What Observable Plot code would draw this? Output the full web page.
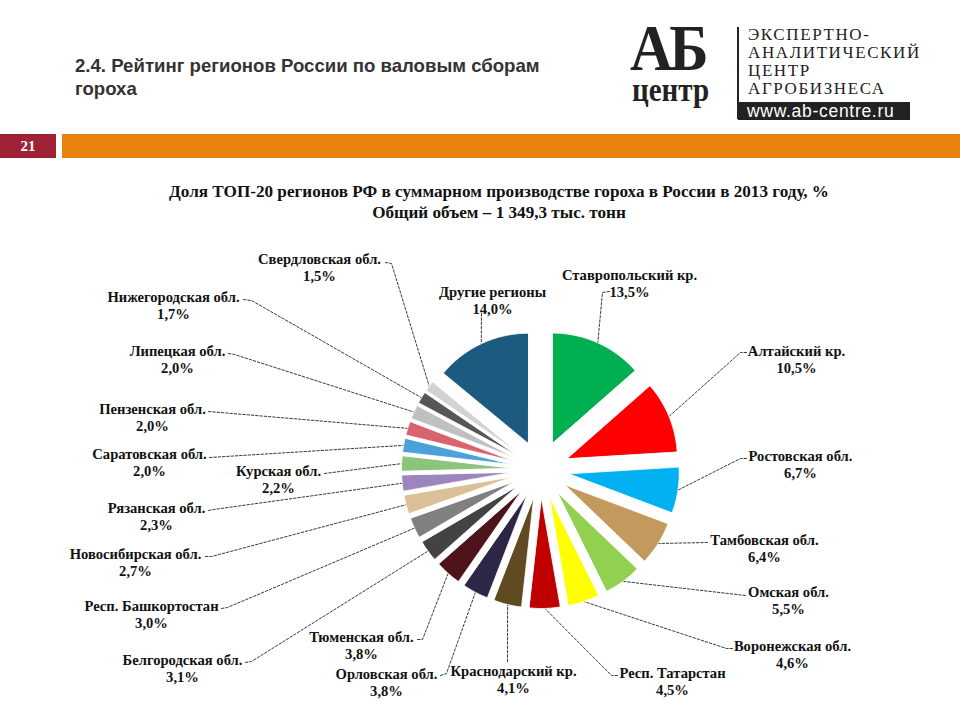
<!DOCTYPE html>
<html><head><meta charset="utf-8">
<script src="https://cdn.jsdelivr.net/npm/d3@7"></script>
<script src="https://cdn.jsdelivr.net/npm/@observablehq/plot@0.6"></script>
<style>
html,body{margin:0;padding:0;background:#fff}
body{width:960px;height:720px;position:relative;overflow:hidden}
#title{position:absolute;left:75px;top:54px;font-family:"Liberation Sans Narrow","Liberation Sans",Arial,sans-serif;font-weight:bold;font-size:18.6px;line-height:23px;color:#333}
#ab{position:absolute;left:630px;top:24px;font-family:"Liberation Serif",serif;font-weight:bold;font-size:66px;line-height:48px;height:48px;color:#222;letter-spacing:-4px;transform:scaleX(0.9);transform-origin:left top}
#centr{position:absolute;left:632px;top:76px;font-family:"Liberation Serif",serif;font-weight:bold;font-size:33px;line-height:28px;color:#222;transform:scaleX(0.88);transform-origin:left top}
#vline{position:absolute;left:737px;top:27px;width:2px;height:92px;background:#222}
#lt{position:absolute;left:748px;top:26px;font-family:"Liberation Serif",serif;font-size:17px;line-height:18px;color:#222;letter-spacing:1.6px}
#www{position:absolute;left:738px;top:102px;width:172px;height:18px;background:#222;color:#fff;font-family:"Liberation Sans",Arial,sans-serif;font-size:17.5px;line-height:18px;letter-spacing:0.7px;padding-left:9px;box-sizing:border-box;white-space:nowrap}
#num{position:absolute;left:0;top:134px;width:56px;height:24px;background:#9f2337;color:#fff;font-family:"Liberation Serif",serif;font-weight:bold;font-size:15px;line-height:24px;text-align:center}
#bar{position:absolute;left:62px;top:134px;width:898px;height:24px;background:#e8810e}
#ctitle{position:absolute;left:0;width:998px;top:181px;text-align:center;font-family:"Liberation Serif","Times New Roman",serif;font-weight:bold;font-size:17.15px;line-height:21px;color:#111}
#chart{position:absolute;left:0;top:230px}
</style></head><body>
<div id="title">2.4. Рейтинг регионов России по валовым сборам<br>гороха</div>
<div id="ab">АБ</div>
<div id="centr">центр</div>
<div id="vline"></div>
<div id="lt">ЭКСПЕРТНО-<br>АНАЛИТИЧЕСКИЙ<br>ЦЕНТР<br>АГРОБИЗНЕСА</div>
<div id="www">www.ab-centre.ru</div>
<div id="num">21</div>
<div id="bar"></div>
<div id="ctitle">Доля ТОП-20 регионов РФ в суммарном производстве гороха в России в 2013 году, %<br>Общий объем – 1 349,3 тыс. тонн</div>
<div id="chart"></div>
<script>
// ---- data (clockwise from 12 o'clock) ----
const regions = ["Ставропольский кр.", "Алтайский кр.", "Ростовская обл.", "Тамбовская обл.", "Омская обл.",
  "Воронежская обл.", "Респ. Татарстан", "Краснодарский кр.", "Орловская обл.", "Тюменская обл.",
  "Белгородская обл.", "Респ. Башкортостан", "Новосибирская обл.", "Рязанская обл.", "Курская обл.",
  "Саратовская обл.", "Пензенская обл.", "Липецкая обл.", "Нижегородская обл.", "Свердловская обл.", "Другие регионы"];
const shares = [13.5, 10.5, 6.7, 6.4, 5.5, 4.6, 4.5, 4.1, 3.8, 3.8, 3.1, 3.0, 2.7, 2.3, 2.2, 2.0, 2.0, 2.0, 1.7, 1.5, 14.0];
const colors = ["#00b050", "#ff0000", "#00b0f0", "#c4995e", "#92d050", "#ffff00", "#c00000", "#5f4a22", "#2e2646", "#4e131b",
  "#434343", "#808080", "#dbc097", "#9d86bb", "#8cc47c", "#4aa2d9", "#d8626d", "#c0c0c0", "#575757", "#d3d3d3", "#1d5a80"];

// ---- layout (page pixels): label first-line centre, leader start, optional bend ----
const labelXY = [[629,274],[796,350],[800,455],[764,539],[788,591],[792,645],[672,672],[513,670],[386,673],[361,636],
  [182,659],[151,605],[135,553],[156,507],[278,470],[149,453],[152,408],[177,350],[173,296],[319,258],[492,291]];
const leaderStart = [[609,291],[746,352],[746,458],[707,542],[745,595],[732,648],[617,675],[507,661],[440,675],[417,639],
  [245,662],[221,608],[205,556],[208,510],[324,473],[209,457],[208,411],[228,353],[243,299],[385,262],[481,313]];
const leaderBend = [[602,292],[740,352],[740,458],null,null,[726,648],[611,675],null,[446,673],[422,639],
  [251,661],[227,607],[211,556],[213,509],null,null,null,[234,354],[251,300],[391,263],null];

const CX = 540, CY = 469, R = 110, EXPLODE = 29, TOP = 230, H = 490;
const LINE_GAP = 16.7, FS = 14.6;

const arcs = d3.pie().sort(null).value(d => d)(shares);
const dir = a => [Math.sin(a), -Math.cos(a)];

// slice polygons
const slicePts = [];
arcs.forEach((a, i) => {
  const m = (a.startAngle + a.endAngle) / 2;
  const [mx, my] = dir(m);
  const tx = CX + EXPLODE * mx, ty = CY + EXPLODE * my;
  slicePts.push({name: regions[i], x: tx, y: ty});
  const n = Math.max(4, Math.ceil((a.endAngle - a.startAngle) / 0.02));
  for (let k = 0; k <= n; k++) {
    const ang = a.startAngle + (a.endAngle - a.startAngle) * k / n;
    const [dx, dy] = dir(ang);
    slicePts.push({name: regions[i], x: tx + R * dx, y: ty + R * dy});
  }
});

// leader lines
const leaderPts = [];
arcs.forEach((a, i) => {
  const m = (a.startAngle + a.endAngle) / 2;
  const [mx, my] = dir(m);
  const end = [CX + (EXPLODE + R) * mx, CY + (EXPLODE + R) * my];
  const pts = [leaderStart[i]];
  if (leaderBend[i]) pts.push(leaderBend[i]);
  pts.push(end);
  pts.forEach(p => leaderPts.push({k: i, x: p[0], y: p[1]}));
});

const fmt = v => v.toFixed(1).replace(".", ",") + "%";
const labels = regions.map((r, i) => ({text: r + "\n" + fmt(shares[i]), x: labelXY[i][0], y: labelXY[i][1] + LINE_GAP / 2}));

const chart = Plot.plot({
  width: 960, height: H, margin: 0,
  style: {fontFamily: "'Liberation Serif','Times New Roman',serif", background: "transparent"},
  x: {domain: [0, 960], range: [0, 960], axis: null},
  y: {domain: [TOP, TOP + H], range: [0, H], axis: null},
  color: {domain: regions, range: colors},
  marks: [
    Plot.line(leaderPts, {x: "x", y: "y", z: "k", stroke: "#222", strokeWidth: 0.9, strokeDasharray: "2.5,1.8", curve: "linear"}),
    Plot.line(slicePts, {x: "x", y: "y", z: "name", fill: "name", stroke: "#fff", strokeWidth: 0.8, curve: "linear-closed"}),
    Plot.text(labels, {x: "x", y: "y", text: "text", fontSize: FS, fontWeight: "bold", fill: "#111", lineHeight: LINE_GAP / FS, textAnchor: "middle"})
  ]
});
document.getElementById("chart").appendChild(chart);
</script>
</body></html>
